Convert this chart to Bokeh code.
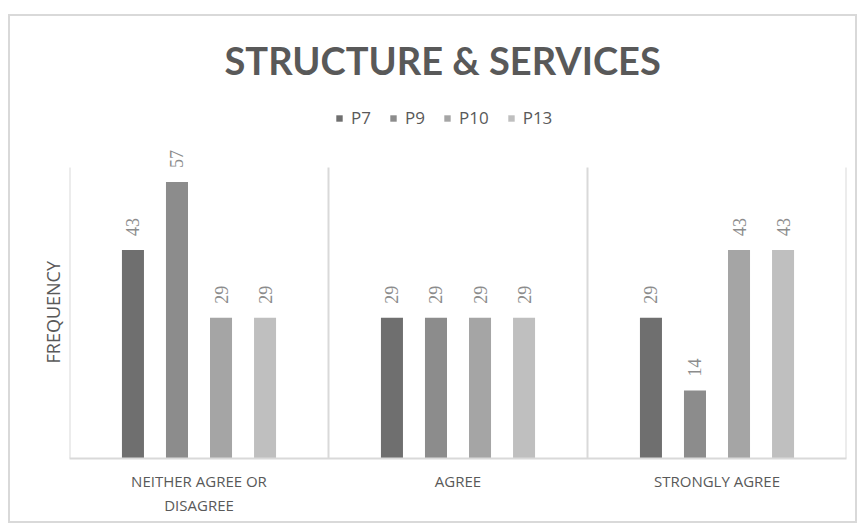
import math
import textwrap
from bokeh.plotting import figure
from bokeh.models import (ColumnDataSource, Legend, LegendItem, LabelSet,
                          Title, Range1d, FixedTicker)
from bokeh.transform import dodge
from bokeh.embed import file_html
from bokeh.resources import INLINE

# ---- data ----
categories = ["NEITHER AGREE OR DISAGREE", "AGREE", "STRONGLY AGREE"]
series = ["P7", "P9", "P10", "P13"]
p7 = [43, 29, 29]
p9 = [57, 29, 14]
p10 = [29, 29, 43]
p13 = [29, 29, 43]
values = [p7, p9, p10, p13]
y_max = 60
title_text = "STRUCTURE & SERVICES"
y_label = "FREQUENCY"

# ---- style ----
colors = ["#6f6f6f", "#8c8c8c", "#a5a5a5", "#bfbfbf"]
offsets = [-0.255, -0.085, 0.085, 0.255]
bar_w = 0.085
text_col = "#595959"
line_col = "#d9d9d9"
FONT = "Open Sans"

n = len(categories)
centers = [i + 0.5 for i in range(n)]
data = {"xc": centers}
for s, v in zip(series, values):
    data[s] = v
    data[s + "_lbl"] = [str(x) for x in v]
src = ColumnDataSource(data)

W, H = 849, 509
frame_top = 79          # px from canvas top (frame includes legend strip)
frame_bottom = 442
plot_top = 151          # px where y_max sits
top_extent = y_max * (frame_bottom - frame_top) / (frame_bottom - plot_top)

p = figure(x_range=Range1d(0, n), y_range=Range1d(0, top_extent), width=W, height=H,
           output_backend="svg", toolbar_location=None,
           min_border_left=59, min_border_right=13,
           min_border_bottom=H - frame_bottom, min_border_top=frame_top)
p.margin = (14, 0, 0, 8)
p.styles = {"border": "2px solid #d9d9d9"}

renderers = []
for s, c, off in zip(series, colors, offsets):
    r = p.vbar(x=dodge("xc", off), top=s, width=bar_w,
               fill_color=c, line_color=None, source=src)
    renderers.append(r)
    p.add_layout(LabelSet(x=dodge("xc", off), y=s, text=s + "_lbl",
                          source=src, angle=math.pi / 2, text_align="left",
                          text_baseline="middle", y_offset=14,
                          text_font=FONT, text_font_size="18px", text_color="#8c8c8c"))

bounds = list(range(n + 1))
p.segment(x0=bounds, x1=bounds, y0=[0] * len(bounds), y1=[y_max] * len(bounds),
          line_color=line_col, line_width=2)

p.xgrid.visible = False
p.ygrid.visible = False
p.outline_line_color = None

xa = p.xaxis[0]
xa.ticker = FixedTicker(ticks=centers)
xa.major_label_overrides = {c: textwrap.fill(lab, 16) for c, lab in zip(centers, categories)}
xa.axis_line_color = line_col
xa.axis_line_width = 2
xa.major_tick_line_color = None
xa.minor_tick_line_color = None
xa.major_label_text_color = text_col
xa.major_label_text_font = FONT
xa.major_label_text_font_size = "15px"
xa.major_label_standoff = 6

p.yaxis.visible = False

# y-axis title, placed alongside the bar area (bottom-anchored, rotated)
p.add_layout(Title(text=y_label, align="left", offset=95, text_font=FONT,
                   text_font_size="18px", text_font_style="normal",
                   text_color=text_col, standoff=9), "left")

legend = Legend(items=[LegendItem(label=s, renderers=[r]) for s, r in zip(series, renderers)],
                orientation="horizontal", location=(266, 329),
                glyph_width=8, glyph_height=8, label_standoff=8, spacing=18,
                label_text_font=FONT, label_text_font_size="17px", label_text_color=text_col,
                border_line_color=None, background_fill_alpha=0, padding=0, margin=0)
p.add_layout(legend)
p.add_layout(Title(text=title_text, align="left", offset=155, text_font="Lato",
                   text_font_size="38px", text_font_style="bold", text_color=text_col,
                   standoff=26), "above")

open("out.html", "w").write(file_html(p, INLINE))
